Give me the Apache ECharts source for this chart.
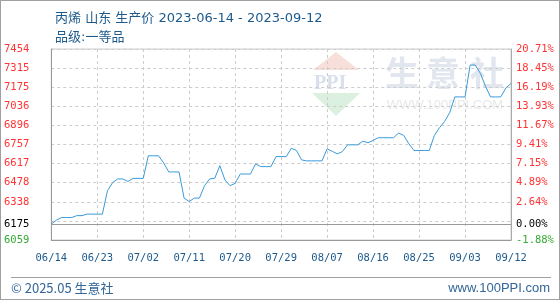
<!DOCTYPE html>
<html>
<head>
<meta charset="utf-8">
<script src="https://cdn.jsdelivr.net/npm/echarts@6/dist/echarts.min.js"></script>
<style>
html,body{margin:0;padding:0;background:#fff;}
#c{width:558px;height:298px;border:1px solid #a0a0a0;}
</style>
</head>
<body>
<div id="c"></div>
<script>
var titleText = '丙烯 山东 生产价 2023-06-14 - 2023-09-12';
var gradeText = '品级:一等品';
var footerLeft = '© 2025.05 生意社';
var footerRight = 'www.100PPI.com';

var dates = [
 '06/14','06/15','06/16','06/17','06/18','06/19','06/20','06/21','06/22','06/23',
 '06/24','06/25','06/26','06/27','06/28','06/29','06/30',
 '07/01','07/02','07/03','07/04','07/05','07/06','07/07','07/08','07/09','07/10',
 '07/11','07/12','07/13','07/14','07/15','07/16','07/17','07/18','07/19','07/20',
 '07/21','07/22','07/23','07/24','07/25','07/26','07/27','07/28','07/29','07/30','07/31',
 '08/01','08/02','08/03','08/04','08/05','08/06','08/07','08/08','08/09','08/10',
 '08/11','08/12','08/13','08/14','08/15','08/16','08/17','08/18','08/19','08/20',
 '08/21','08/22','08/23','08/24','08/25','08/26','08/27','08/28','08/29','08/30','08/31',
 '09/01','09/02','09/03','09/04','09/05','09/06','09/07','09/08','09/09','09/10','09/11','09/12'
];

var prices = [
 6175,6204,6223,6223,6223,6237,6237,6248,6248,6248,
 6248,6419,6478,6505,6505,6487,6509,
 6509,6509,6674,6674,6674,6622,6556,6556,6556,6365,
 6340,6365,6365,6456,6505,6510,6602,6497,6456,6473,
 6541,6541,6541,6615,6595,6595,6595,6668,6668,6668,6729,
 6713,6644,6637,6637,6637,6637,6725,6707,6688,6705,
 6754,6754,6754,6781,6769,6786,6806,6806,6806,6806,
 6840,6823,6762,6713,6713,6713,6713,6823,6879,6925,6989,
 7104,7104,7104,7337,7337,7276,7182,7104,7104,7104,7170,7202
];

var baseValue = 6175;
var baseLabelLeft = '6175';
var baseLabelRight = '0.00%';
var yMin = 6059;
var yMax = 7454;
var yStep = 139.5;
var leftTickLabels = ['6059','','6338','6478','6617','6757','6896','7036','7175','7315','7454'];
var rightTickLabels = ['-1.88%','','2.64%','4.89%','7.15%','9.41%','11.67%','13.93%','16.19%','18.45%','20.71%'];

var RED = '#ff3333', GREEN = '#33aa33', BLUE = '#1d5a8c';
var AXFONT = 'DejaVu Sans Mono';
var TFONT = '"DejaVu Sans", "Noto Sans CJK SC", sans-serif';

function tickIndex(v){ return Math.round((v - yMin) / yStep); }
function tickColor(v){ return tickIndex(v) === 0 ? GREEN : RED; }

var chart = echarts.init(document.getElementById('c'), null, {renderer:'canvas'});
chart.setOption({
  animation:false,
  title:[
    {text:titleText, left:49, top:6, textStyle:{fontFamily:TFONT, fontSize:13, fontWeight:'normal', color:BLUE}},
    {text:gradeText, left:49, top:25, textStyle:{fontFamily:TFONT, fontSize:13, fontWeight:'normal', color:BLUE}}
  ],
  grid:{left:49, right:48, top:48, bottom:59, show:true, borderColor:'#cccccc', borderWidth:1},
  xAxis:{
    type:'category', data:dates, boundaryGap:false,
    axisLine:{show:true, lineStyle:{color:'#999999', width:1}},
    axisTick:{show:false},
    axisLabel:{interval:8, margin:13, color:BLUE, fontFamily:AXFONT, fontSize:10.5},
    splitLine:{show:true, interval:8, lineStyle:{color:'#cccccc', type:[3,3], width:1}}
  },
  yAxis:[
    {type:'value', min:yMin, max:yMax, interval:yStep, position:'left',
     axisLine:{show:true, lineStyle:{color:'#999999'}}, axisTick:{show:false},
     axisLabel:{margin:22, fontFamily:AXFONT, fontSize:10.5,
       formatter:function(v){return leftTickLabels[tickIndex(v)];}, color:function(v){return tickColor(v);}},
     splitLine:{show:true, lineStyle:{color:'#cccccc', type:[3,3], width:1}}},
    {type:'value', min:yMin, max:yMax, interval:yStep, position:'right',
     axisLine:{show:true, lineStyle:{color:'#aaaaaa'}}, axisTick:{show:false},
     axisLabel:{margin:5, fontFamily:AXFONT, fontSize:10.5,
       formatter:function(v){return rightTickLabels[tickIndex(v)];}, color:function(v){return tickColor(v);}},
     splitLine:{show:false}}
  ],
  series:[{
    type:'line', data:prices, showSymbol:false, symbol:'none',
    lineStyle:{color:'#3a9ad9', width:1}, itemStyle:{color:'#3a9ad9'}, z:5,
    markLine:{
      silent:true, symbol:'none', animation:false,
      lineStyle:{color:'#999999', type:'solid', width:1},
      data:[
        {yAxis:baseValue, label:{show:true, position:'start', distance:22, formatter:baseLabelLeft, color:'#000', fontFamily:AXFONT, fontSize:10.5}},
        {yAxis:baseValue, label:{show:true, position:'end', distance:5, formatter:baseLabelRight, color:'#000', fontFamily:AXFONT, fontSize:10.5}}
      ]
    }
  }],
  graphic:[
    {type:'polygon', z:-10, silent:true, shape:{points:[[335,51],[312,69],[358,69]]}, style:{fill:'#f8dfda'}},
    {type:'text', z:-10, silent:true, left:313, top:73, style:{text:'PPI', font:'bold 20px Liberation Serif', fill:'#d9e0eb'}},
    {type:'polygon', z:-10, silent:true, shape:{points:[[311,92],[359,92],[335,115]]}, style:{fill:'#dbf0df'}},
    {type:'text', z:-10, silent:true, x:401, y:72, style:{text:'生', font:'bold 34px Noto Sans CJK SC', fill:'#e2e6ef', align:'center', verticalAlign:'middle'}},
    {type:'text', z:-10, silent:true, x:442, y:72, style:{text:'意', font:'bold 34px Noto Sans CJK SC', fill:'#e2e6ef', align:'center', verticalAlign:'middle'}},
    {type:'text', z:-10, silent:true, x:486, y:72, style:{text:'社', font:'bold 34px Noto Sans CJK SC', fill:'#e2e6ef', align:'center', verticalAlign:'middle'}},
    {type:'text', z:-10, silent:true, x:444, y:104, style:{text:'WWW.100PPI.COM', font:'13px Liberation Sans', fill:'#e8e8e8', align:'center', verticalAlign:'middle'}},
    {type:'line', silent:true, shape:{x1:10, y1:276.5, x2:550, y2:276.5}, style:{stroke:'#a0a0a0', lineWidth:1}},
    {type:'text', silent:true, x:10, y:287, style:{text:footerLeft, font:'13px Noto Sans CJK SC', fill:'#336699', verticalAlign:'middle'}},
    {type:'text', silent:true, x:549, y:287, style:{text:footerRight, font:'13px Liberation Sans', fill:'#336699', align:'right', verticalAlign:'middle'}}
  ]
});
</script>
</body>
</html>
